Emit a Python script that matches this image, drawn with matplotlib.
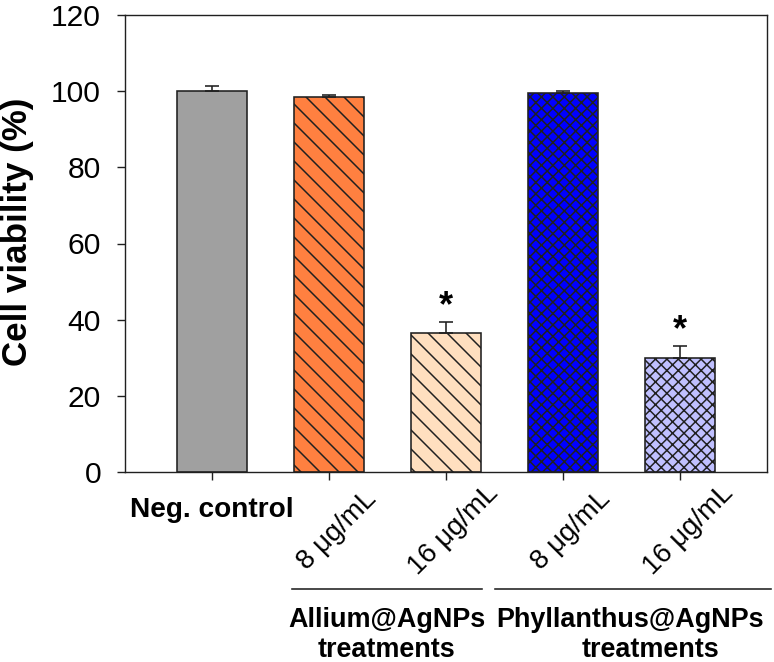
import matplotlib
matplotlib.use("Agg")
import matplotlib.pyplot as plt
import numpy as np

# ---------------- data ----------------
categories = ["Neg. control", "8 μg/mL", "16 μg/mL", "8 μg/mL", "16 μg/mL"]
viability = [100.0, 98.5, 36.6, 99.4, 29.9]
sem = [1.4, 0.6, 2.7, 0.6, 3.2]
significant = [False, False, True, False, True]
group_names = ["Allium@AgNPs", "Phyllanthus@AgNPs"]
group_sub = ["treatments", "treatments"]
yticks = [0, 20, 40, 60, 80, 100, 120]

# ---------------- style ----------------
colors = ["#a0a0a0", "#ff8040", "#ffdfbf", "#0000ff", "#c0c0ff"]
hatches = ["", "\\" * 6, "\\" * 6, "x" * 10, "x" * 10]
EDGE = "#202020"

DPI = 342
W, H = 774, 662


def px(v):
    """pixels -> points"""
    return v * 72.0 / DPI


plt.rcParams["font.family"] = ["Liberation Sans", "DejaVu Sans"]
plt.rcParams["hatch.linewidth"] = px(1.5)

fig = plt.figure(figsize=(W / DPI, H / DPI), dpi=DPI)
ax = fig.add_axes([125 / W, 1 - 472 / H, (767 - 125) / W, (472 - 15) / H])

x = np.arange(len(categories))
bars = ax.bar(x, viability, width=0.6, color=colors, edgecolor=EDGE,
              linewidth=px(1.6), zorder=2)
for b, h in zip(bars, hatches):
    b.set_hatch(h)

ax.errorbar(x, viability, yerr=[np.zeros(len(sem)), sem], fmt="none",
            ecolor=EDGE, elinewidth=px(1.6), capsize=px(7), capthick=px(1.6),
            zorder=3)

for xi, v, e, s in zip(x, viability, sem, significant):
    if s:
        ax.annotate("*", xy=(xi, v + e), xytext=(0, px(6)),
                    textcoords="offset points", ha="center", va="baseline",
                    fontsize=px(36), fontweight="bold", color="black")

ax.set_xlim(-0.74, 4.74)
ax.set_ylim(0, 120)
ax.set_yticks(yticks)
ax.set_yticklabels([str(t) for t in yticks], fontsize=px(30))
ax.set_xticks(x)
ax.set_xticklabels([""] * len(x))
ax.tick_params(axis="both", direction="out", length=px(8), width=px(1.4),
               color=EDGE, top=False, right=False)
ax.tick_params(axis="y", pad=px(16))
for sp in ax.spines.values():
    sp.set_linewidth(px(1.4))
    sp.set_color(EDGE)

ax.set_ylabel("Cell viability (%)", fontsize=px(35), fontweight="bold",
              va="center")
ax.yaxis.set_label_coords((18 - 125) / (767 - 125), (472 - 232) / (472 - 15))

# x category labels
for xi, lab in zip(x, categories):
    if xi == 0:
        ax.annotate(lab, xy=(xi, 0), xycoords=("data", "axes fraction"),
                    xytext=(0, -px(45)), textcoords="offset points",
                    ha="center", va="baseline", fontsize=px(28),
                    fontweight="bold")
    else:
        ax.annotate(lab, xy=(xi, 0), xycoords=("data", "axes fraction"),
                    xytext=(px(8), -px(58)), textcoords="offset points",
                    ha="center", va="center", rotation=45,
                    rotation_mode="anchor", fontsize=px(27.5))

# group lines and labels
ybot = (472 - 589) / (472 - 15)
tr = ax.get_xaxis_transform()
group_spans = [(0.684, 2.308), (2.419, 4.77)]
for (x0, x1) in group_spans:
    ax.plot([x0, x1], [ybot, ybot], transform=tr, color=EDGE,
            linewidth=px(1.6), clip_on=False)

group_centers = [(387 - 212) / 117.0, (630 - 212) / 117.0]
sub_centers = [(387 - 212) / 117.0, (650 - 212) / 117.0]
for gc, sc, name, sub in zip(group_centers, sub_centers, group_names, group_sub):
    ax.annotate(name, xy=(gc, 0), xycoords=("data", "axes fraction"),
                xytext=(0, -px(155)), textcoords="offset points",
                ha="center", va="baseline", fontsize=px(27),
                fontweight="bold", annotation_clip=False)
    ax.annotate(sub, xy=(sc, 0), xycoords=("data", "axes fraction"),
                xytext=(0, -px(185)), textcoords="offset points",
                ha="center", va="baseline", fontsize=px(27),
                fontweight="bold", annotation_clip=False)

fig.savefig("out.png", dpi=DPI)
